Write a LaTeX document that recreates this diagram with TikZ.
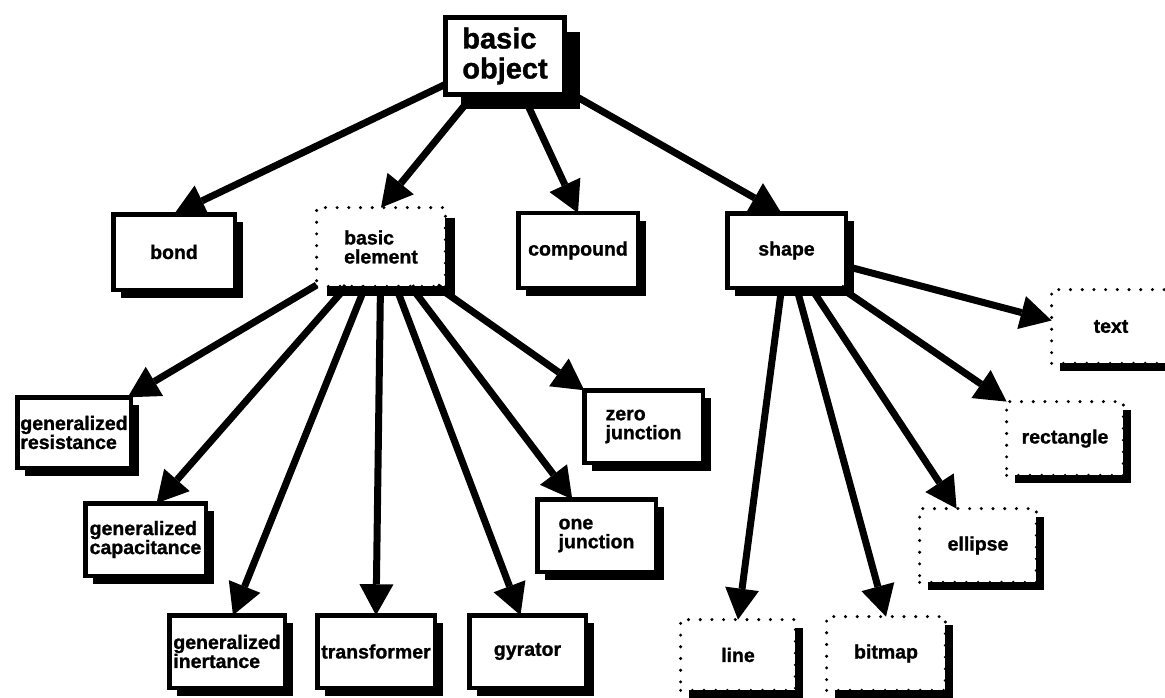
\documentclass[tikz,border=0pt]{standalone}
\usepackage{fontspec}
\setmainfont{Liberation Sans}[BoldFeatures={FakeBold=1.2}]
\usetikzlibrary{arrows.meta,shadows,calc}
\begin{document}
\begin{tikzpicture}[x=1pt,y=-1pt,
  every node/.style={inner sep=0pt, outer sep=0pt, align=left,
    font=\fontsize{19.5}{19}\selectfont\bfseries},
  classbox/.style={draw, line width=4.5pt, fill=white,
    drop shadow={shadow xshift=#1, shadow yshift=-#1, opacity=1, fill=black}},
  classbox/.default=8pt,
  abstractbox/.style={draw, line width=3.4pt, dash pattern=on 0pt off 11.7pt,
    line cap=round, fill=white,
    drop shadow={shadow xshift=#1, shadow yshift=-#1, opacity=1, fill=black}},
  abstractbox/.default=8pt,
  link/.style={line width=7pt,
    -{Triangle[length=31pt, width=34pt, line width=0pt]}}
]
\useasboundingbox (0,0) rectangle (1165,698);

% root class
\node[classbox=15pt, line width=5pt, minimum width=119pt, minimum height=77pt,
  font=\fontsize{29}{30}\selectfont\bfseries] (obj) at (505,56) {basic\\object};

% second level
\node[classbox, minimum width=121.5pt, minimum height=75.5pt] (bond) at (174,252) {bond};
\node[abstractbox=10pt, minimum width=128.8pt, minimum height=78.8pt] (be) at (381,247) {basic\\element};
\node[classbox, minimum width=119.5pt, minimum height=75pt] (cmp) at (578,250.5) {compound};
\node[classbox, minimum width=118.5pt, minimum height=74.5pt] (shp) at (786.5,250.5) {shape};

% basic elements
\node[classbox, minimum width=113.5pt, minimum height=70.5pt] (res) at (74,432.5) {generalized\\resistance};
\node[classbox, minimum width=120.5pt, minimum height=72.5pt] (cap) at (145.5,539.5) {generalized\\capacitance};
\node[classbox, minimum width=115.5pt, minimum height=72.5pt] (ine) at (227,651.5) {generalized\\inertance};
\node[classbox, minimum width=117.5pt, minimum height=72.5pt] (trf) at (376,651.5) {transformer};
\node[classbox, minimum width=116.5pt, minimum height=72.5pt] (gyr) at (527.5,651.5) {gyrator};
\node[classbox, minimum width=118.5pt, minimum height=72.5pt] (one) at (596.5,535.5) {one\\junction};
\node[classbox, minimum width=118.5pt, minimum height=72.5pt] (zero) at (643.5,426.5) {zero\\junction};

% shapes
\node[abstractbox, minimum width=114.8pt, minimum height=70.8pt] (line) at (738,655) {line};
\node[abstractbox, minimum width=118.8pt, minimum height=73.8pt] (bmp) at (886,653.5) {bitmap};
\node[abstractbox, minimum width=116.8pt, minimum height=73.8pt] (ell) at (978,545.5) {ellipse};
\node[abstractbox, minimum width=116.8pt, minimum height=73.8pt] (rect) at (1065,438.5) {rectangle};
\node[abstractbox, minimum width=118.8pt, minimum height=73.8pt] (txt) at (1111,326.5) {text};

% inheritance links
\draw[link] (obj) -- (bond.north);
\draw[link] (obj) -- (be.north);
\draw[link] (obj) -- (cmp.north);
\draw[link] (obj) -- ($(shp.north)+(-5,0)$);

\draw[link] (be) -- ($(res.north east)+(-3,0)$);
\draw[link] (be) -- ($(cap.north)+(11,0)$);
\draw[link] (be) -- ($(ine.north)+(6,0)$);
\draw[link] (be) -- (trf.north);
\draw[link] (be) -- ($(gyr.north)+(-7,0)$);
\draw[link] (be) -- ($(one.north west)+(35,0)$);
\draw[link] (be) -- (zero.north west);

\draw[link] (shp) -- (line.north);
\draw[link] (shp) -- (bmp.north);
\draw[link] (shp) -- ($(ell.north west)+(37,0)$);
\draw[link] (shp) -- (rect.north west);
\draw[link] (shp) -- ($(txt.west)+(0,-6)$);
\end{tikzpicture}
\end{document}
